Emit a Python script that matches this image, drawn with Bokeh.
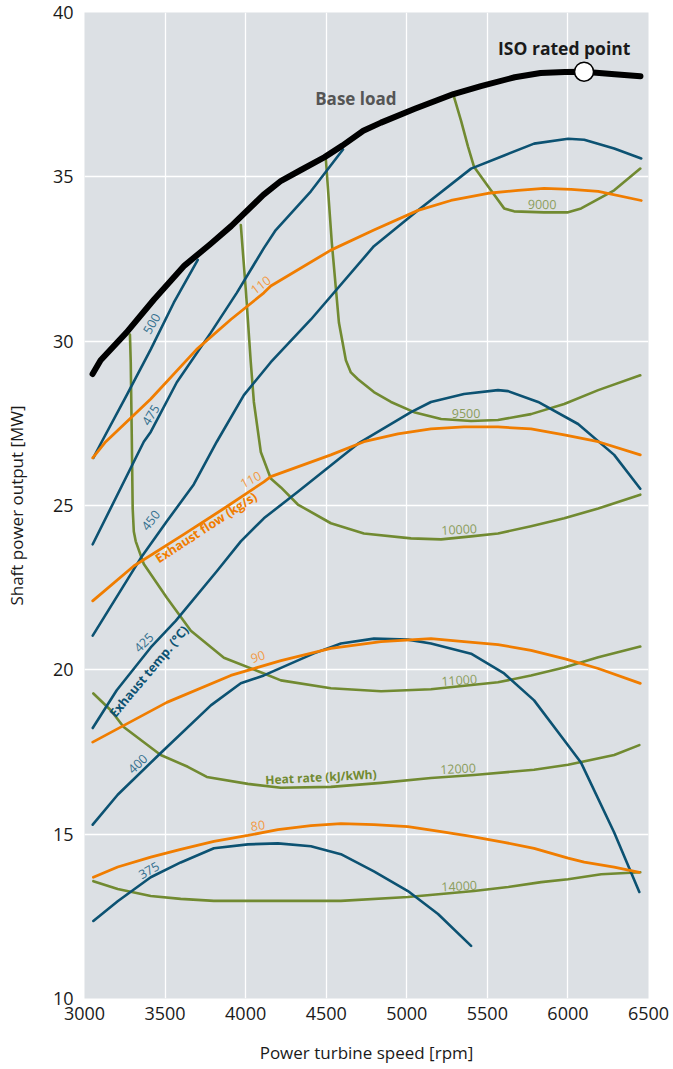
from bokeh.plotting import figure
from bokeh.models import Range1d, FixedTicker
from bokeh.core.properties import value
from bokeh.embed import file_html
from bokeh.resources import INLINE

# ---------------- data ----------------
x_ticks = [3000, 3500, 4000, 4500, 5000, 5500, 6000, 6500]
y_ticks = [10, 15, 20, 25, 30, 35, 40]

base_rpm = [3050, 3100, 3260, 3430, 3620, 3780, 3910, 4110, 4220, 4340, 4490, 4600,
            4730, 4840, 5050, 5290, 5460, 5670, 5830, 5980, 6100, 6290, 6450]
base_mw = [29.0, 29.42, 30.26, 31.26, 32.3, 32.95, 33.5, 34.45, 34.88, 35.2, 35.6, 35.95,
           36.4, 36.65, 37.07, 37.52, 37.76, 38.03, 38.16, 38.19, 38.2, 38.12, 38.06]
iso_rpm = [6100]
iso_mw = [38.2]

# exhaust temperature (degC) curves
t500_rpm = [3055, 3107, 3262, 3411, 3554, 3703]
t500_mw = [26.45, 26.94, 28.36, 29.75, 31.17, 32.47]
t475_rpm = [3051, 3368, 3411, 3573, 3784, 3945, 4113, 4187, 4405, 4604]
t475_mw = [23.82, 26.94, 27.24, 28.75, 30.26, 31.47, 32.83, 33.38, 34.56, 35.83]
t450_rpm = [3051, 3349, 3511, 3678, 3821, 3989, 4156, 4405, 4796, 5070, 5399, 5604,
            5790, 6001, 6101, 6287, 6455]
t450_mw = [21.04, 23.4, 24.52, 25.64, 26.94, 28.36, 29.36, 30.66, 32.89, 33.98, 35.25, 35.65,
           36.01, 36.16, 36.13, 35.86, 35.56]
t425_rpm = [3051, 3200, 3411, 3566, 3821, 3970, 4113, 4324, 4697, 5026, 5150, 5355, 5566,
            5629, 5815, 6063, 6287, 6449]
t425_mw = [18.23, 19.38, 20.68, 21.49, 23.0, 23.91, 24.61, 25.42, 26.88, 27.84, 28.15, 28.39, 28.51,
           28.48, 28.15, 27.48, 26.54, 25.51]
t400_rpm = [3051, 3206, 3473, 3784, 3970, 4113, 4424, 4591, 4796, 5007, 5150, 5399, 5604,
            5790, 5977, 6082, 6287, 6443]
t400_mw = [15.29, 16.2, 17.47, 18.92, 19.59, 19.83, 20.5, 20.8, 20.95, 20.92, 20.8, 20.49, 19.89,
           19.07, 17.86, 17.17, 15.05, 13.24]
t375_rpm = [3055, 3206, 3411, 3597, 3803, 4014, 4200, 4405, 4591, 4796, 5007, 5194, 5399]
t375_mw = [12.36, 12.96, 13.69, 14.14, 14.57, 14.69, 14.72, 14.63, 14.39, 13.87, 13.27, 12.57, 11.6]

# exhaust flow (kg/s) curves
f110a_rpm = [3051, 3132, 3411, 3696, 3908, 4113, 4156, 4529, 4796, 5070, 5274, 5504, 5691,
             5852, 6020, 6188, 6455]
f110a_mw = [26.45, 26.94, 28.24, 29.75, 30.66, 31.47, 31.68, 32.77, 33.38, 33.98, 34.28, 34.5, 34.59,
            34.65, 34.62, 34.56, 34.28]
f110b_rpm = [3051, 3306, 3616, 3865, 4113, 4156, 4529, 4734, 4945, 5150, 5355, 5566, 5771,
             5977, 6188, 6449]
f110b_mw = [22.1, 23.16, 24.12, 24.91, 25.72, 25.88, 26.54, 26.94, 27.18, 27.33, 27.39, 27.39, 27.33,
            27.15, 26.94, 26.54]
f90_rpm = [3051, 3511, 3908, 4219, 4529, 4840, 5150, 5355, 5566, 5771, 5977, 6188, 6449]
f90_mw = [17.8, 19.01, 19.83, 20.28, 20.65, 20.86, 20.95, 20.86, 20.77, 20.59, 20.34, 20.04, 19.59]
f80_rpm = [3055, 3206, 3411, 3597, 3803, 4014, 4200, 4405, 4591, 4796, 5007, 5213, 5399,
           5604, 5790, 6001, 6101, 6287, 6443]
f80_mw = [13.69, 14.0, 14.3, 14.54, 14.78, 14.96, 15.14, 15.26, 15.32, 15.29, 15.23, 15.08, 14.93,
          14.75, 14.57, 14.27, 14.15, 14.0, 13.84]

# heat rate (kJ/kWh) curves
h9000_rpm = [5293, 5337, 5380, 5417, 5504, 5604, 5666, 5852, 6001, 6082, 6287, 6449]
h9000_mw = [37.43, 36.7, 35.92, 35.31, 34.71, 34.04, 33.95, 33.92, 33.92, 34.04, 34.59, 35.25]
h9500_rpm = [4498, 4535, 4579, 4622, 4653, 4697, 4796, 4902, 5045, 5213, 5399, 5566, 5771,
             5977, 6188, 6449]
h9500_mw = [35.52, 32.98, 30.56, 29.42, 29.05, 28.84, 28.45, 28.15, 27.84, 27.63, 27.57, 27.6, 27.78,
            28.09, 28.51, 28.96]
h10000_rpm = [3970, 4001, 4032, 4051, 4094, 4156, 4219, 4324, 4529, 4734, 5026, 5213, 5399,
              5566, 5771, 5977, 6188, 6449]
h10000_mw = [33.53, 31.56, 29.35, 28.15, 26.63, 25.82, 25.55, 25.03, 24.46, 24.15, 24.0, 23.97, 24.06,
             24.15, 24.37, 24.61, 24.91, 25.33]
h11000_rpm = [3282, 3287, 3293, 3299, 3306, 3318, 3368, 3511, 3660, 3865, 4113, 4219, 4529,
              4840, 5150, 5566, 5771, 5977, 6188, 6449]
h11000_mw = [30.2, 29.35, 27.24, 24.91, 24.21, 23.91, 23.22, 22.19, 21.19, 20.37, 19.89, 19.68, 19.44,
             19.35, 19.41, 19.62, 19.83, 20.07, 20.38, 20.71]
h12000_rpm = [3055, 3163, 3243, 3473, 3641, 3759, 4014, 4219, 4529, 4840, 5150, 5417, 5790,
              6001, 6287, 6443]
h12000_mw = [19.28, 18.77, 18.26, 17.41, 17.05, 16.74, 16.53, 16.41, 16.44, 16.56, 16.71, 16.8, 16.96,
             17.11, 17.41, 17.71]
h14000_rpm = [3055, 3206, 3411, 3597, 3803, 4200, 4591, 5007, 5213, 5417, 5629, 5834, 6001,
              6207, 6449]
h14000_mw = [13.57, 13.33, 13.12, 13.03, 12.97, 12.97, 12.97, 13.09, 13.18, 13.27, 13.39, 13.54, 13.63,
             13.78, 13.84]

# curve labels
temp_labels = ["500", "475", "450", "425", "400", "375"]
temp_lab_rpm = [3417, 3411, 3411, 3368, 3330, 3400]
temp_lab_mw = [30.53, 27.75, 24.55, 20.83, 17.14, 13.9]
temp_lab_ang = [60, 59, 52, 45, 43, 30]

flow_labels = ["110", "110", "90", "80"]
flow_lab_rpm = [4094, 4032, 4076, 4076]
flow_lab_mw = [31.71, 25.79, 20.4, 15.26]
flow_lab_ang = [37, 27, 18, 7]

hr_labels = ["9000", "9500", "10000", "11000", "12000", "14000"]
hr_lab_rpm = [5840, 5368, 5325, 5325, 5318, 5325]
hr_lab_mw = [34.16, 27.81, 24.27, 19.68, 16.99, 13.42]
hr_lab_ang = [-1, 0, 3, 4, 3, 3]

# ---------------- styling ----------------
FONT = "Open Sans"
BG = "#dce0e4"
TEAL = "#0c5272"
TEAL_L = "#34708f"
ORANGE = "#f07d00"
ORANGE_L = "#f29a45"
OLIVE = "#718a31"
OLIVE_L = "#8b9d5c"

p = figure(width=670, height=1066, x_range=Range1d(3000, 6500), y_range=Range1d(10, 40),
           output_backend="svg", toolbar_location=None,
           min_border_left=84, min_border_right=22, min_border_top=12, min_border_bottom=66)
p.background_fill_color = BG
p.border_fill_color = "white"
p.outline_line_color = None

p.xaxis.ticker = FixedTicker(ticks=x_ticks)
p.yaxis.ticker = FixedTicker(ticks=y_ticks)
p.grid.grid_line_color = "white"
p.grid.grid_line_width = 1.3
p.axis.axis_line_color = None
p.axis.major_tick_line_color = None
p.axis.minor_tick_line_color = None
p.axis.major_tick_out = 0
p.axis.major_tick_in = 0
p.axis.minor_tick_out = 0
p.axis.major_label_text_font = FONT
p.axis.major_label_text_font_size = "18px"
p.axis.major_label_text_color = "#1a1a1a"
p.axis.axis_label_text_font = FONT
p.axis.axis_label_text_font_size = "17px"
p.axis.axis_label_text_font_style = "normal"
p.axis.axis_label_text_color = "#1a1a1a"
p.xaxis.axis_label = "Power turbine speed [rpm]"
p.yaxis.axis_label = "Shaft power output [MW]"
p.xaxis.major_label_standoff = 8
p.xaxis.axis_label_standoff = 18
p.yaxis.major_label_standoff = 11
p.yaxis.axis_label_standoff = 22

LW = 2.6
for xs, ys in [(h9000_rpm, h9000_mw), (h9500_rpm, h9500_mw), (h10000_rpm, h10000_mw),
               (h11000_rpm, h11000_mw), (h12000_rpm, h12000_mw), (h14000_rpm, h14000_mw)]:
    p.line(xs, ys, line_color=OLIVE, line_width=LW, line_join="round", line_cap="round")
for xs, ys in [(t500_rpm, t500_mw), (t475_rpm, t475_mw), (t450_rpm, t450_mw),
               (t425_rpm, t425_mw), (t400_rpm, t400_mw), (t375_rpm, t375_mw)]:
    p.line(xs, ys, line_color=TEAL, line_width=LW, line_join="round", line_cap="round")
for xs, ys in [(f110a_rpm, f110a_mw), (f110b_rpm, f110b_mw), (f90_rpm, f90_mw), (f80_rpm, f80_mw)]:
    p.line(xs, ys, line_color=ORANGE, line_width=2.8, line_join="round", line_cap="round")

p.line(base_rpm, base_mw, line_color="black", line_width=6, line_join="round", line_cap="round")
p.scatter(iso_rpm, iso_mw, size=19, fill_color="white", line_color="black", line_width=1.5)

common = dict(text_align="center", text_baseline="middle", text_font=value(FONT), angle_units="deg")
p.text(temp_lab_rpm, temp_lab_mw, text=temp_labels, angle=temp_lab_ang,
       text_color=TEAL_L, text_font_size="12.5px", **common)
p.text(flow_lab_rpm, flow_lab_mw, text=flow_labels, angle=flow_lab_ang,
       text_color=ORANGE_L, text_font_size="12.5px", **common)
p.text(hr_lab_rpm, hr_lab_mw, text=hr_labels, angle=hr_lab_ang,
       text_color=OLIVE_L, text_font_size="12.5px", **common)

p.text([3399], [19.95], text=["Exhaust temp. (°C)"], angle=[50], text_color=TEAL,
       text_font_size="12.5px", text_font_style="bold", **common)
p.text([3755], [24.33], text=["Exhaust flow (kg/s)"], angle=[33], text_color=ORANGE,
       text_font_size="12.5px", text_font_style="bold", **common)
p.text([4467], [16.74], text=["Heat rate (kJ/kWh)"], angle=[3], text_color=OLIVE,
       text_font_size="12px", text_font_style="bold", **common)
p.text([4684], [37.37], text=["Base load"], angle=[0], text_color="#555555",
       text_font_size="17px", text_font_style="bold", **common)
p.text([5977], [38.91], text=["ISO rated point"], angle=[0], text_color="#1a1a1a",
       text_font_size="17.5px", text_font_style="bold", **common)

open("out.html", "w").write(file_html(p, INLINE))
